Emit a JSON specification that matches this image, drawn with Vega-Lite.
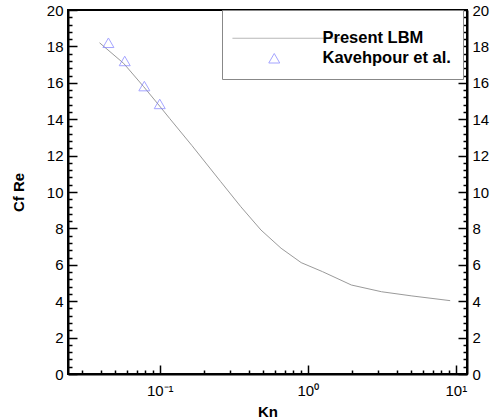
{
  "$schema": "https://vega.github.io/schema/vega-lite/v6.json",
  "width": 399,
  "height": 364,
  "autosize": "none",
  "padding": {"left": 68, "top": 10, "right": 29, "bottom": 46},
  "background": "white",
  "config": {
    "view": {"stroke": "black", "strokeWidth": 2},
    "font": "Liberation Sans",
    "axis": {
      "labelFont": "Liberation Sans",
      "labelFontSize": 15,
      "labelColor": "black",
      "titleFont": "Liberation Sans",
      "titleFontSize": 15,
      "titleFontWeight": "bold",
      "titleColor": "black",
      "domainColor": "black",
      "domainWidth": 2,
      "tickColor": "black",
      "grid": false,
      "labelOverlap": false,
      "labelBound": false,
      "labelFlush": false,
      "format": "d"
    },
    "legend": {
      "orient": "none",
      "legendX": 154,
      "legendY": 0,
      "strokeColor": "#888888",
      "fillColor": "white",
      "padding": 12,
      "titleFontSize": 3,
      "labelFont": "Liberation Sans",
      "labelFontSize": 16.5,
      "labelFontWeight": "bold",
      "labelColor": "black",
      "labelOffset": 40,
      "symbolOffset": 32,
      "rowPadding": 3,
      "symbolStrokeWidth": 1,
      "symbolSize": 121
    }
  },
  "layer": [
    {
      "data": {
        "values": [
          {"Kn": 0.0392, "cf": 18.2, "series": "Present LBM"},
          {"Kn": 0.057, "cf": 17.07, "series": "Present LBM"},
          {"Kn": 0.0778, "cf": 15.79, "series": "Present LBM"},
          {"Kn": 0.0985, "cf": 14.78, "series": "Present LBM"},
          {"Kn": 0.1164, "cf": 14.05, "series": "Present LBM"},
          {"Kn": 0.165, "cf": 12.55, "series": "Present LBM"},
          {"Kn": 0.258, "cf": 10.57, "series": "Present LBM"},
          {"Kn": 0.353, "cf": 9.19, "series": "Present LBM"},
          {"Kn": 0.483, "cf": 7.91, "series": "Present LBM"},
          {"Kn": 0.66, "cf": 6.91, "series": "Present LBM"},
          {"Kn": 0.902, "cf": 6.12, "series": "Present LBM"},
          {"Kn": 1.26, "cf": 5.62, "series": "Present LBM"},
          {"Kn": 1.97, "cf": 4.89, "series": "Present LBM"},
          {"Kn": 3.15, "cf": 4.52, "series": "Present LBM"},
          {"Kn": 5.05, "cf": 4.29, "series": "Present LBM"},
          {"Kn": 9.16, "cf": 4.03, "series": "Present LBM"}
        ]
      },
      "mark": {"type": "line", "strokeWidth": 1},
      "encoding": {
        "x": {
          "field": "Kn",
          "type": "quantitative",
          "scale": {"type": "log", "domain": [0.024, 11.9], "nice": false},
          "axis": {
            "orient": "bottom",
            "title": "Kn",
            "titlePadding": 1,
            "values": [0.03, 0.04, 0.05, 0.06, 0.07, 0.08, 0.09, 0.1, 0.2, 0.3, 0.4, 0.5, 0.6, 0.7, 0.8, 0.9, 1, 2, 3, 4, 5, 6, 7, 8, 9, 10],
            "labelExpr": "datum.value === 0.1 ? '10⁻¹' : datum.value === 1 ? '10⁰' : datum.value === 10 ? '10¹' : ''",
            "tickSize": {"condition": {"test": "datum.value === 0.1 || datum.value === 1 || datum.value === 10", "value": -9}, "value": -4},
            "tickWidth": 1.5,
            "labelPadding": 18
          }
        },
        "y": {
          "field": "cf",
          "type": "quantitative",
          "scale": {"domain": [0, 20], "nice": false},
          "axis": {
            "orient": "left",
            "title": "Cf Re",
            "titlePadding": 20,
            "values": [0, 0.4, 0.8, 1.2, 1.6, 2, 2.4, 2.8, 3.2, 3.6, 4, 4.4, 4.8, 5.2, 5.6, 6, 6.4, 6.8, 7.2, 7.6, 8, 8.4, 8.8, 9.2, 9.6, 10, 10.4, 10.8, 11.2, 11.6, 12, 12.4, 12.8, 13.2, 13.6, 14, 14.4, 14.8, 15.2, 15.6, 16, 16.4, 16.8, 17.2, 17.6, 18, 18.4, 18.8, 19.2, 19.6, 20],
            "labelExpr": "datum.value % 2 === 0 ? datum.label : ''",
            "tickSize": {"condition": {"test": "datum.value % 2 === 0", "value": -9}, "value": -4},
            "labelPadding": {"condition": {"test": "datum.value % 2 === 0", "value": 14}, "value": 9},
            "tickWidth": 1.5
          }
        },
        "color": {
          "field": "series",
          "type": "nominal",
          "title": " ",
          "scale": {"domain": ["Present LBM", "Kavehpour et al."], "range": ["#9a9a9a", "#7f7fff"]}
        }
      }
    },
    {
      "data": {
        "values": [
          {"Kn": 0.045, "cf": 18.2, "series": "Kavehpour et al."},
          {"Kn": 0.058, "cf": 17.2, "series": "Kavehpour et al."},
          {"Kn": 0.0787, "cf": 15.82, "series": "Kavehpour et al."},
          {"Kn": 0.1, "cf": 14.84, "series": "Kavehpour et al."}
        ]
      },
      "mark": {"type": "point", "filled": false, "size": 121, "strokeWidth": 1},
      "encoding": {
        "x": {"field": "Kn", "type": "quantitative"},
        "y": {
          "field": "cf",
          "type": "quantitative",
          "axis": {
            "orient": "right",
            "title": null,
            "values": [0, 0.4, 0.8, 1.2, 1.6, 2, 2.4, 2.8, 3.2, 3.6, 4, 4.4, 4.8, 5.2, 5.6, 6, 6.4, 6.8, 7.2, 7.6, 8, 8.4, 8.8, 9.2, 9.6, 10, 10.4, 10.8, 11.2, 11.6, 12, 12.4, 12.8, 13.2, 13.6, 14, 14.4, 14.8, 15.2, 15.6, 16, 16.4, 16.8, 17.2, 17.6, 18, 18.4, 18.8, 19.2, 19.6, 20],
            "labelExpr": "datum.value % 2 === 0 ? datum.label : ''",
            "tickSize": {"condition": {"test": "datum.value % 2 === 0", "value": -9}, "value": -4},
            "tickWidth": 1.5,
            "labelPadding": 14
          }
        },
        "color": {"field": "series", "type": "nominal", "title": " "},
        "shape": {
          "field": "series",
          "type": "nominal",
          "title": " ",
          "scale": {"domain": ["Present LBM", "Kavehpour et al."], "range": ["M-7.6,0L12,0", "triangle-up"]}
        }
      }
    }
  ],
  "resolve": {"axis": {"y": "independent"}}
}
